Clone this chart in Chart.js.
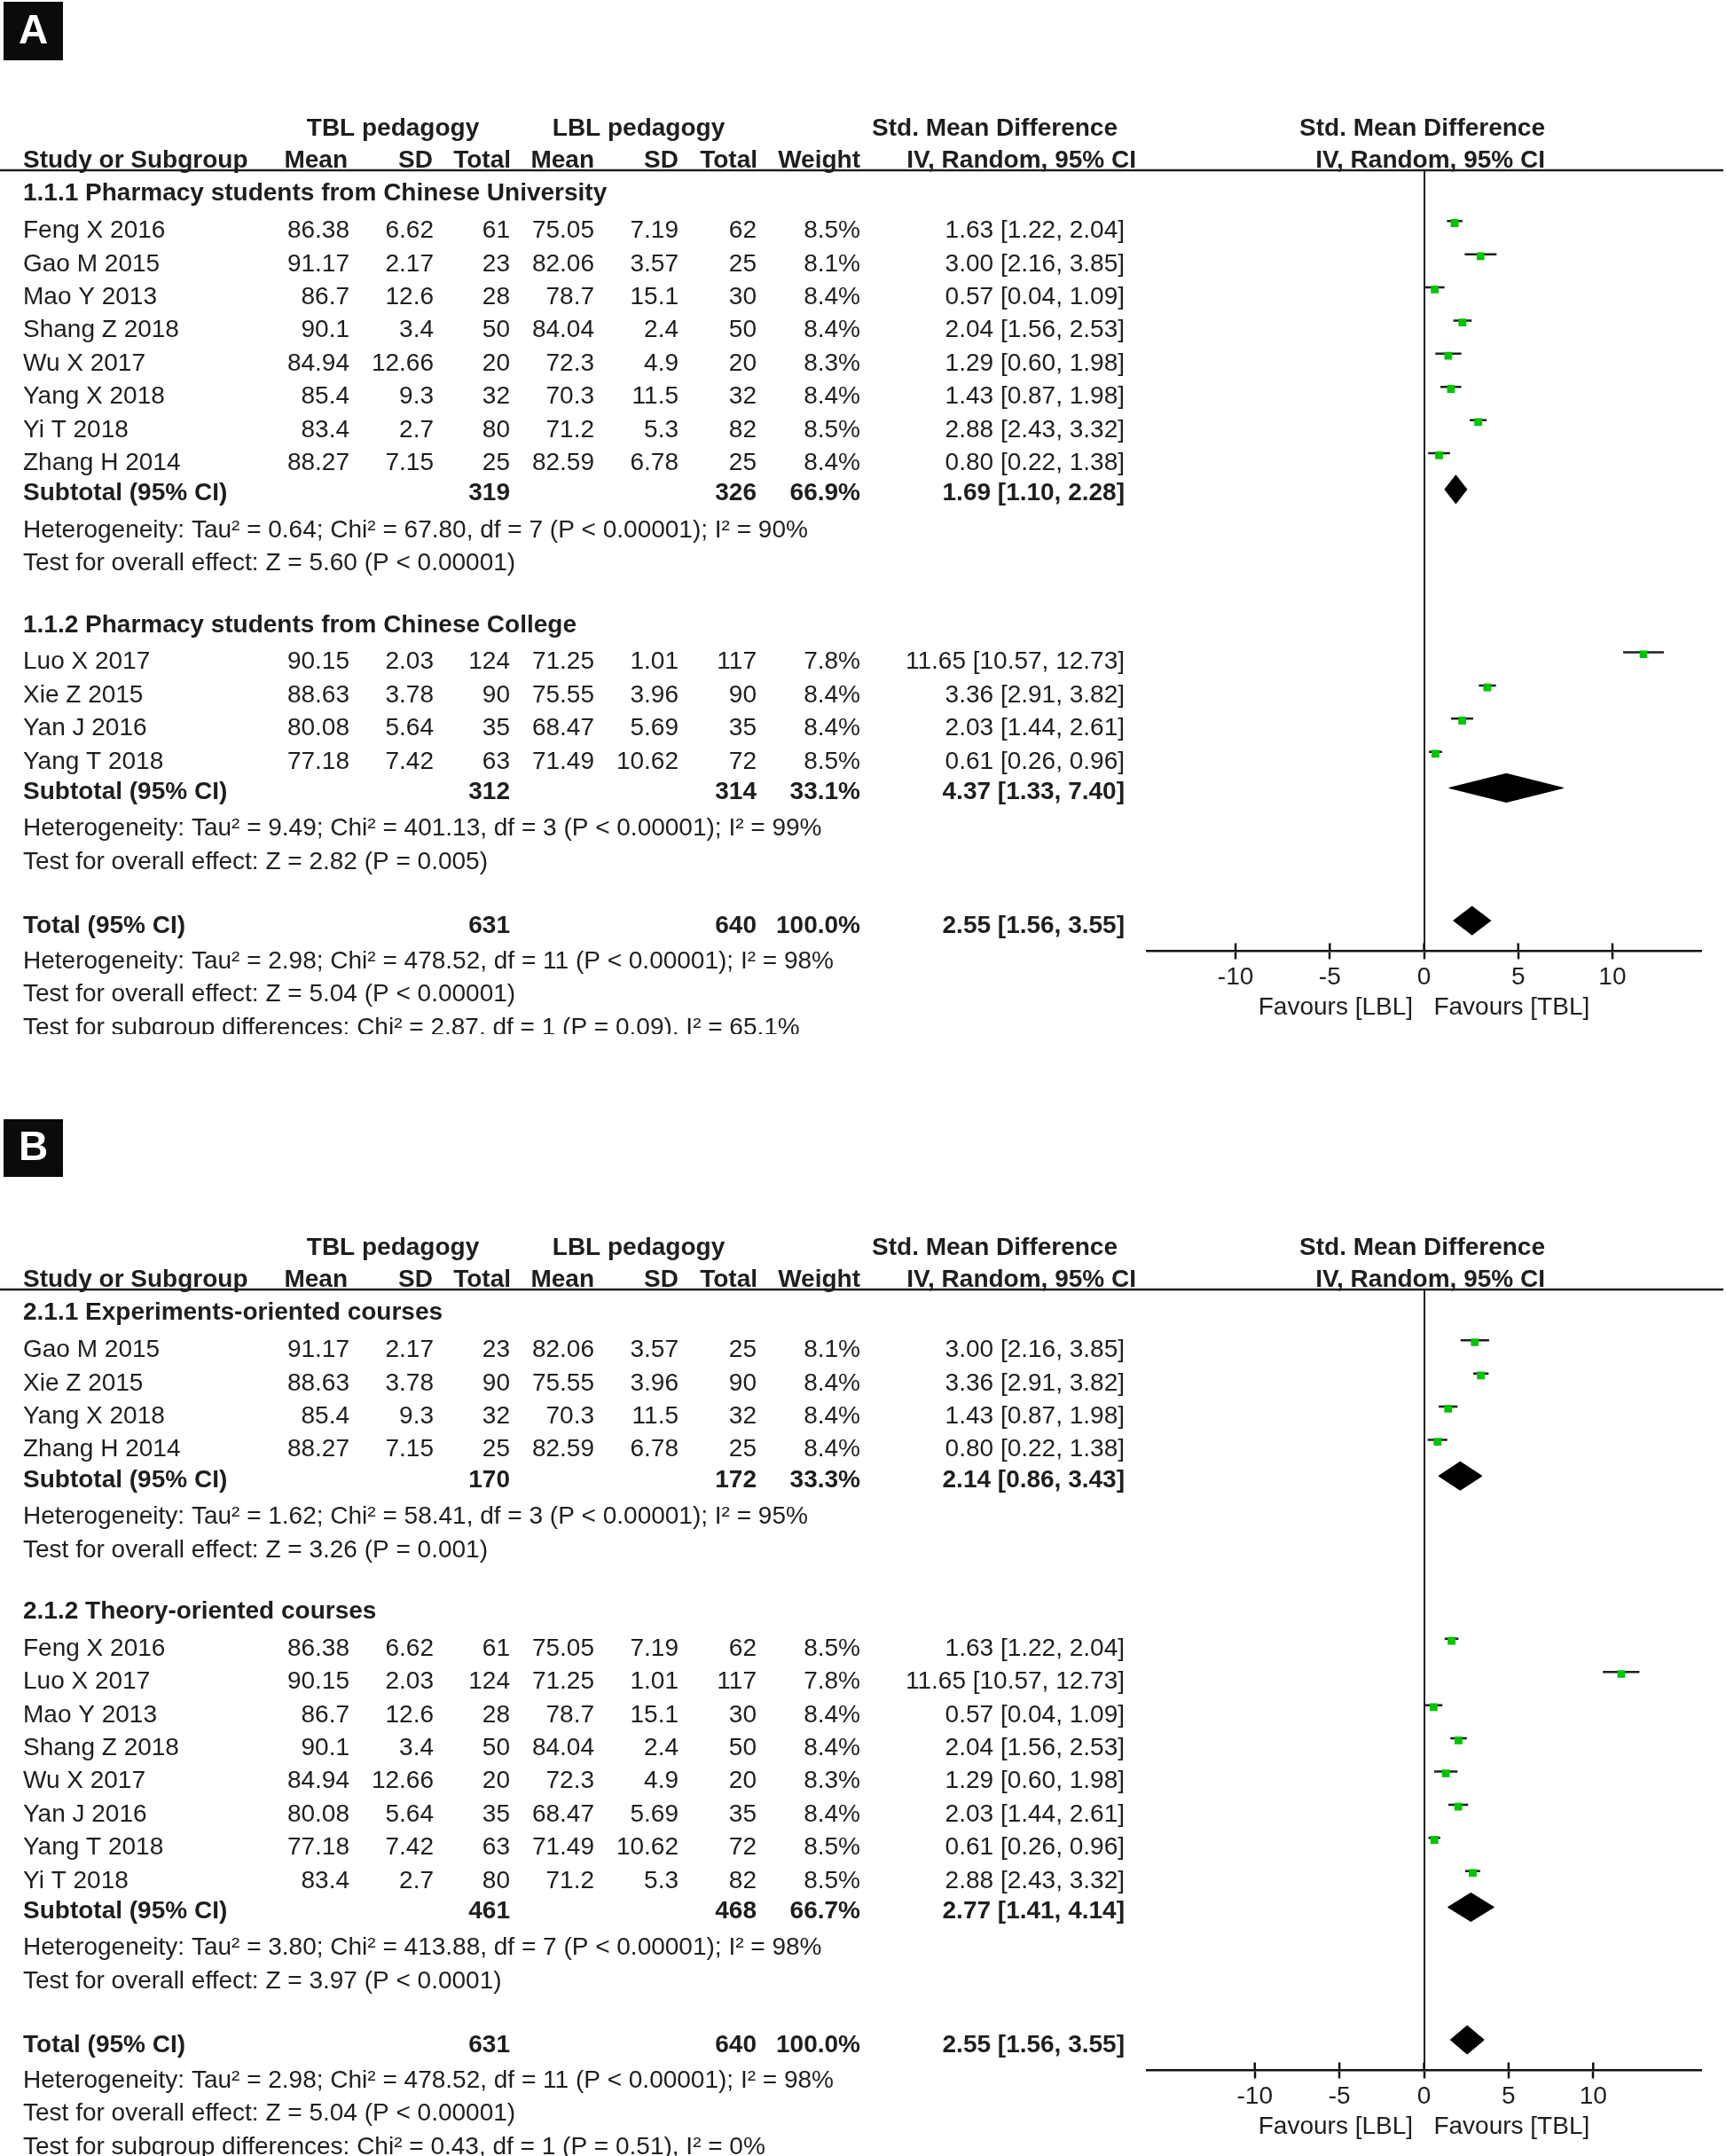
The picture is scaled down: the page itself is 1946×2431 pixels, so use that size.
<!DOCTYPE html>
<html>
<head>
<meta charset="utf-8">
<script src="https://cdn.jsdelivr.net/npm/chart.js@4.4.1/dist/chart.umd.min.js"></script>
<style>
  html, body { margin: 0; padding: 0; background: #fff; width: 1946px; height: 2431px; overflow: hidden; }
  .panel { position: absolute; left: 0; }
  canvas { display: block; }
</style>
</head>
<body>
<div class="panel" style="top:0px"><canvas id="chartA" width="1946" height="1166" style="width:1946px;height:1166px"></canvas></div>
<div class="panel" style="top:1262px"><canvas id="chartB" width="1946" height="1169" style="width:1946px;height:1169px"></canvas></div>
<script>
// ---------------- DATA ----------------
const STUDIES   = ['Feng X 2016', 'Gao M 2015', 'Luo X 2017', 'Mao Y 2013', 'Shang Z 2018', 'Wu X 2017',
                   'Xie Z 2015', 'Yan J 2016', 'Yang T 2018', 'Yang X 2018', 'Yi T 2018', 'Zhang H 2014'];
const TBL_MEAN  = [86.38, 91.17, 90.15, 86.7, 90.1, 84.94, 88.63, 80.08, 77.18, 85.4, 83.4, 88.27];
const TBL_SD    = [6.62, 2.17, 2.03, 12.6, 3.4, 12.66, 3.78, 5.64, 7.42, 9.3, 2.7, 7.15];
const TBL_N     = [61, 23, 124, 28, 50, 20, 90, 35, 63, 32, 80, 25];
const LBL_MEAN  = [75.05, 82.06, 71.25, 78.7, 84.04, 72.3, 75.55, 68.47, 71.49, 70.3, 71.2, 82.59];
const LBL_SD    = [7.19, 3.57, 1.01, 15.1, 2.4, 4.9, 3.96, 5.69, 10.62, 11.5, 5.3, 6.78];
const LBL_N     = [62, 25, 117, 30, 50, 20, 90, 35, 72, 32, 82, 25];
const WEIGHT    = [8.5, 8.1, 7.8, 8.4, 8.4, 8.3, 8.4, 8.4, 8.5, 8.4, 8.5, 8.4];
const SMD       = [1.63, 3.00, 11.65, 0.57, 2.04, 1.29, 3.36, 2.03, 0.61, 1.43, 2.88, 0.80];
const CI_LOW    = [1.22, 2.16, 10.57, 0.04, 1.56, 0.60, 2.91, 1.44, 0.26, 0.87, 2.43, 0.22];
const CI_HIGH   = [2.04, 3.85, 12.73, 1.09, 2.53, 1.98, 3.82, 2.61, 0.96, 1.98, 3.32, 1.38];

// Panel A subgroups
const A_GROUP_NAMES = ['1.1.1 Pharmacy students from Chinese University', '1.1.2 Pharmacy students from Chinese College'];
const A_GROUP_1 = ['Feng X 2016', 'Gao M 2015', 'Mao Y 2013', 'Shang Z 2018', 'Wu X 2017', 'Yang X 2018', 'Yi T 2018', 'Zhang H 2014'];
const A_GROUP_2 = ['Luo X 2017', 'Xie Z 2015', 'Yan J 2016', 'Yang T 2018'];
const A_SUB_TBL_N  = [319, 312];
const A_SUB_LBL_N  = [326, 314];
const A_SUB_WEIGHT = [66.9, 33.1];
const A_SUB_SMD    = [1.69, 4.37];
const A_SUB_LOW    = [1.10, 1.33];
const A_SUB_HIGH   = [2.28, 7.40];
const A_SUB_HET  = ['Heterogeneity: Tau² = 0.64; Chi² = 67.80, df = 7 (P < 0.00001); I² = 90%',
                    'Heterogeneity: Tau² = 9.49; Chi² = 401.13, df = 3 (P < 0.00001); I² = 99%'];
const A_SUB_TEST = ['Test for overall effect: Z = 5.60 (P < 0.00001)',
                    'Test for overall effect: Z = 2.82 (P = 0.005)'];
const A_DIFF = 'Test for subgroup differences: Chi² = 2.87, df = 1 (P = 0.09), I² = 65.1%';
const A_X_TICKS = [-10, -5, 0, 5, 10];

// Panel B subgroups
const B_GROUP_NAMES = ['2.1.1 Experiments-oriented courses', '2.1.2 Theory-oriented courses'];
const B_GROUP_1 = ['Gao M 2015', 'Xie Z 2015', 'Yang X 2018', 'Zhang H 2014'];
const B_GROUP_2 = ['Feng X 2016', 'Luo X 2017', 'Mao Y 2013', 'Shang Z 2018', 'Wu X 2017', 'Yan J 2016', 'Yang T 2018', 'Yi T 2018'];
const B_SUB_TBL_N  = [170, 461];
const B_SUB_LBL_N  = [172, 468];
const B_SUB_WEIGHT = [33.3, 66.7];
const B_SUB_SMD    = [2.14, 2.77];
const B_SUB_LOW    = [0.86, 1.41];
const B_SUB_HIGH   = [3.43, 4.14];
const B_SUB_HET  = ['Heterogeneity: Tau² = 1.62; Chi² = 58.41, df = 3 (P < 0.00001); I² = 95%',
                    'Heterogeneity: Tau² = 3.80; Chi² = 413.88, df = 7 (P < 0.00001); I² = 98%'];
const B_SUB_TEST = ['Test for overall effect: Z = 3.26 (P = 0.001)',
                    'Test for overall effect: Z = 3.97 (P < 0.0001)'];
const B_DIFF = 'Test for subgroup differences: Chi² = 0.43, df = 1 (P = 0.51), I² = 0%';
const B_X_TICKS = [-10, -5, 0, 5, 10];

// Overall (same in both panels)
const TOTAL_TBL_N = [631];
const TOTAL_LBL_N = [640];
const TOTAL_WEIGHT = [100.0];
const TOTAL_SMD = [2.55];
const TOTAL_LOW = [1.56];
const TOTAL_HIGH = [3.55];
const TOTAL_HET = 'Heterogeneity: Tau² = 2.98; Chi² = 478.52, df = 11 (P < 0.00001); I² = 98%';
const TOTAL_TEST = 'Test for overall effect: Z = 5.04 (P < 0.00001)';

// ---------------- STYLE / LAYOUT ----------------
const FONT = '"Liberation Sans", Arial, Helvetica, sans-serif';
const FS = 28;
const INK = '#1e1e1e';
const GREEN = '#00c400';
const AREA_LEFT = 1293, AREA_RIGHT = 1918, AREA_TOP = 192, AXIS_Y = 1072.5;
const ROW_MIN = -1.791, ROW_MAX = 21.751;
const MARKER_DY = -0.2, CI_DY = -0.26, DIAMOND_DY = -0.17, DIAMOND_H = 0.43;
const TEXT_DY = 1.5;
const COL = { name: 26, tblMean: 394, tblSD: 489, tblN: 575, lblMean: 670, lblSD: 765, lblN: 853, weight: 970, ci: 1268 };
const FAV_Y = 1136;

Chart.defaults.font.family = FONT;

function f2(v) { return v.toFixed(2); }
function ciText(e, l, h) { return f2(e) + ' [' + f2(l) + ', ' + f2(h) + ']'; }

function makeGroups(names, members, tn, ln, w, smd, lo, hi, het, test) {
  return names.map((name, i) => ({ name, studies: members[i], tblN: tn[i], lblN: ln[i], weight: w[i],
    smd: smd[i], low: lo[i], high: hi[i], het: het[i], test: test[i] }));
}

function buildRows(groups, diffText) {
  const rows = [];
  let r = -1;
  groups.forEach((g, gi) => {
    if (gi > 0) r += 1;
    rows.push({ kind: 'group', r, text: g.name, first: gi === 0 }); r += 1;
    g.studies.forEach(name => { rows.push({ kind: 'study', r, idx: STUDIES.indexOf(name) }); r += 1; });
    rows.push({ kind: 'subtotal', r, g }); r += 1;
    rows.push({ kind: 'note', r, text: g.het }); r += 1;
    rows.push({ kind: 'note', r, text: g.test }); r += 1;
  });
  r += 1;
  rows.push({ kind: 'total', r }); r += 1;
  rows.push({ kind: 'note', r, text: TOTAL_HET }); r += 1;
  rows.push({ kind: 'note', r, text: TOTAL_TEST }); r += 1;
  rows.push({ kind: 'note', r, text: diffText });
  return rows;
}

function diamond(est, lo, hi, r) {
  const c = r + DIAMOND_DY;
  return {
    type: 'line',
    data: [{ x: lo, y: c }, { x: est, y: c - DIAMOND_H }, { x: hi, y: c }, { x: est, y: c + DIAMOND_H }, { x: lo, y: c }],
    borderColor: '#000', backgroundColor: '#000', borderWidth: 1, pointRadius: 0, fill: 'shape', tension: 0
  };
}

function makePanel(canvasId, P) {
  const canvas = document.getElementById(canvasId);
  const H = canvas.height;
  const rows = buildRows(P.groups, P.diff);
  const studyRows = rows.filter(x => x.kind === 'study');
  const subRows = rows.filter(x => x.kind === 'subtotal');
  const totalRow = rows.find(x => x.kind === 'total');

  const datasets = [];
  datasets.push({
    type: 'scatter',
    data: studyRows.map(s => ({ x: SMD[s.idx], y: s.r + MARKER_DY })),
    pointStyle: 'rect',
    pointRadius: studyRows.map(s => 8.8 * Math.sqrt(WEIGHT[s.idx] / 8.4) / Math.SQRT2),
    pointBackgroundColor: GREEN, pointBorderColor: GREEN, pointBorderWidth: 0, showLine: false
  });
  studyRows.forEach(s => datasets.push({
    type: 'line',
    data: [{ x: CI_LOW[s.idx], y: s.r + CI_DY }, { x: CI_HIGH[s.idx], y: s.r + CI_DY }],
    borderColor: INK, borderWidth: 2.5, pointRadius: 0, fill: false
  }));
  subRows.forEach(s => datasets.push(diamond(s.g.smd, s.g.low, s.g.high, s.r)));
  datasets.push(diamond(TOTAL_SMD[0], TOTAL_LOW[0], TOTAL_HIGH[0], totalRow.r));

  const lh = FS * 1.2;

  const tablePlugin = {
    id: 'forestTable' + canvasId,
    afterDraw(chart) {
      const ctx = chart.ctx, ys = chart.scales.y, xs = chart.scales.x, area = chart.chartArea;
      const py = r => ys.getPixelForValue(r) + TEXT_DY;
      const txt = (s, x, y, align, bold) => {
        ctx.font = (bold ? 'bold ' : '') + FS + 'px ' + FONT;
        ctx.textAlign = align; ctx.textBaseline = 'middle'; ctx.fillStyle = INK;
        ctx.fillText(s, x, y);
      };
      ctx.save();
      // panel label
      ctx.fillStyle = '#0b0b0b';
      ctx.fillRect(4, P.labelTop, 67, 66);
      ctx.fillStyle = '#ffffff';
      ctx.font = 'bold 46px ' + FONT; ctx.textAlign = 'center'; ctx.textBaseline = 'middle';
      ctx.fillText(P.label, 37.5, P.labelTop + 34.5);

      // header line
      ctx.strokeStyle = INK; ctx.lineWidth = 2.5;
      ctx.beginPath(); ctx.moveTo(0, area.top); ctx.lineTo(1943, area.top); ctx.stroke();

      // headers
      const h1 = area.top - 47, h2 = area.top - 10.5;
      txt('TBL pedagogy', 443, h1, 'center', true);
      txt('LBL pedagogy', 720, h1, 'center', true);
      txt('Std. Mean Difference', 1260, h1, 'right', true);
      txt('Std. Mean Difference', 1742, h1, 'right', true);
      txt('Study or Subgroup', COL.name, h2, 'left', true);
      txt('Mean', 392, h2, 'right', true);
      txt('SD', 488, h2, 'right', true);
      txt('Total', 576, h2, 'right', true);
      txt('Mean', 670, h2, 'right', true);
      txt('SD', 765, h2, 'right', true);
      txt('Total', 854, h2, 'right', true);
      txt('Weight', 970, h2, 'right', true);
      txt('IV, Random, 95% CI', 1281, h2, 'right', true);
      txt('IV, Random, 95% CI', 1742, h2, 'right', true);

      rows.forEach(row => {
        const y = py(row.r);
        if (row.kind === 'group') {
          txt(row.text, COL.name, y + (row.first ? -4.5 : -4), 'left', true);
        } else if (row.kind === 'study') {
          const i = row.idx;
          txt(STUDIES[i], COL.name, y, 'left');
          txt(String(TBL_MEAN[i]), COL.tblMean, y, 'right');
          txt(String(TBL_SD[i]), COL.tblSD, y, 'right');
          txt(String(TBL_N[i]), COL.tblN, y, 'right');
          txt(String(LBL_MEAN[i]), COL.lblMean, y, 'right');
          txt(String(LBL_SD[i]), COL.lblSD, y, 'right');
          txt(String(LBL_N[i]), COL.lblN, y, 'right');
          txt(WEIGHT[i].toFixed(1) + '%', COL.weight, y, 'right');
          txt(ciText(SMD[i], CI_LOW[i], CI_HIGH[i]), COL.ci, y, 'right');
        } else if (row.kind === 'subtotal') {
          const g = row.g, yy = y - 3;
          txt('Subtotal (95% CI)', COL.name, yy, 'left', true);
          txt(String(g.tblN), COL.tblN, yy, 'right', true);
          txt(String(g.lblN), COL.lblN, yy, 'right', true);
          txt(g.weight.toFixed(1) + '%', COL.weight, yy, 'right', true);
          txt(ciText(g.smd, g.low, g.high), COL.ci, yy, 'right', true);
        } else if (row.kind === 'total') {
          const yy = y - 2;
          txt('Total (95% CI)', COL.name, yy, 'left', true);
          txt(String(TOTAL_TBL_N[0]), COL.tblN, yy, 'right', true);
          txt(String(TOTAL_LBL_N[0]), COL.lblN, yy, 'right', true);
          txt(TOTAL_WEIGHT[0].toFixed(1) + '%', COL.weight, yy, 'right', true);
          txt(ciText(TOTAL_SMD[0], TOTAL_LOW[0], TOTAL_HIGH[0]), COL.ci, yy, 'right', true);
        } else {
          txt(row.text, COL.name, y + 1, 'left');
        }
      });

      // tick marks extending above the axis line
      ctx.strokeStyle = '#111'; ctx.lineWidth = 2.5;
      xs.ticks.forEach(t => {
        const x = xs.getPixelForValue(t.value);
        ctx.beginPath(); ctx.moveTo(x, area.bottom - 9); ctx.lineTo(x, area.bottom); ctx.stroke();
      });
      ctx.restore();
    }
  };

  return new Chart(canvas, {
    type: 'scatter',
    data: { datasets },
    options: {
      responsive: false,
      devicePixelRatio: 1,
      animation: false,
      events: [],
      layout: { padding: { left: AREA_LEFT, right: 1946 - AREA_RIGHT, top: AREA_TOP, bottom: 0 } },
      plugins: { legend: { display: false }, tooltip: { enabled: false }, title: { display: false } },
      scales: {
        x: {
          type: 'linear', position: 'bottom',
          min: -P.xHalf, max: P.xHalf,
          afterBuildTicks: scale => { scale.ticks = P.xTicks.map(v => ({ value: v })); },
          afterFit: scale => { scale.height = H - AXIS_Y; },
          ticks: { font: { size: FS, family: FONT }, color: INK, padding: 3.5, maxRotation: 0, autoSkip: false, includeBounds: false },
          grid: {
            drawOnChartArea: true,
            color: c => (c.tick && c.tick.value === 0) ? '#222' : 'rgba(0,0,0,0)',
            lineWidth: 2,
            drawTicks: true, tickLength: 9, tickColor: '#111', tickWidth: 2.5
          },
          border: { display: true, color: '#111', width: 2.5 },
          title: {
            display: true, text: 'Favours [LBL]   Favours [TBL]',
            font: { size: FS, family: FONT }, color: INK,
            padding: { top: 0, bottom: H - FAV_Y - lh / 2 }
          }
        },
        y: { type: 'linear', display: false, reverse: true, min: ROW_MIN, max: ROW_MAX }
      }
    },
    plugins: [tablePlugin]
  });
}

const groupsA = makeGroups(A_GROUP_NAMES, [A_GROUP_1, A_GROUP_2], A_SUB_TBL_N, A_SUB_LBL_N, A_SUB_WEIGHT,
                           A_SUB_SMD, A_SUB_LOW, A_SUB_HIGH, A_SUB_HET, A_SUB_TEST);
const groupsB = makeGroups(B_GROUP_NAMES, [B_GROUP_1, B_GROUP_2], B_SUB_TBL_N, B_SUB_LBL_N, B_SUB_WEIGHT,
                           B_SUB_SMD, B_SUB_LOW, B_SUB_HIGH, B_SUB_HET, B_SUB_TEST);

makePanel('chartA', { label: 'A', labelTop: 2, groups: groupsA, diff: A_DIFF, xTicks: A_X_TICKS, xHalf: 14.71 });
makePanel('chartB', { label: 'B', labelTop: -1, groups: groupsB, diff: B_DIFF, xTicks: B_X_TICKS, xHalf: 16.38 });
</script>
</body>
</html>
